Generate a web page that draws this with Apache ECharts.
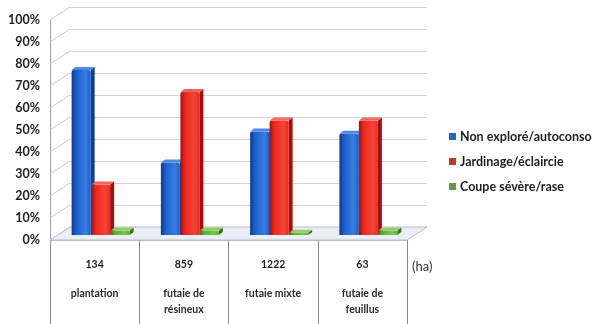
<!DOCTYPE html>
<html>
<head>
<meta charset="utf-8">
<script src="https://cdn.jsdelivr.net/npm/echarts@6/dist/echarts.min.js"></script>
<style>
  html, body { margin: 0; padding: 0; background: #ffffff; }
  #chart { width: 595px; height: 324px; }
</style>
</head>
<body>
<div id="chart"></div>
<script>
// Forest types and their area (ha)
const categories = ['plantation', 'futaie de\nrésineux', 'futaie mixte', 'futaie de\nfeuillus'];
const surfaces = ['134', '859', '1222', '63'];

// Share of each management practice per forest type (%)
const seriesNames = ['Non exploré/autoconso', 'Jardinage/éclaircie', 'Coupe sévère/rase'];
const nonExplore = [75, 33, 47, 46];
const jardinage = [23, 65, 52, 52];
const coupe = [2, 2, 1, 2];

// Value axis ticks
const yTicks = [0, 10, 20, 30, 40, 50, 60, 70, 80, 90, 100];

// Pseudo-3D geometry
const DEPTH_X = 20, DEPTH_Y = 13;      // wall depth
const MID_X = 6, MID_Y = 5;            // bars stand halfway into the depth
const BAR_W = 19, BAR_STEP = 19.5;     // front face width, spacing between series
const SIDE_X = 4, SIDE_Y = 3;          // bar side / top face extent

const FONT = 'Lato, "Liberation Sans", sans-serif';

const palettes = [
  { legend: '#1f66c8', dark: '#0b3a94', mid: '#1a5fcf', light: '#3a7ee0', side: '#0d3f8f', top: '#4d8ae6' },
  { legend: '#c0392b', dark: '#a30f0c', mid: '#f0261c', light: '#f2463a', side: '#9c120e', top: '#f7665c' },
  { legend: '#5a9e3a', dark: '#3d7a22', mid: '#5fae35', light: '#7cc451', side: '#3a6f20', top: '#8fd063' }
];

function frameRenderer(params, api) {
  const cs = params.coordSys;
  const v = api.value(1);
  const y = api.coord([0, v])[1];
  const children = [];
  if (v === 0) {
    children.push({
      type: 'polygon',
      shape: { points: [[cs.x, y], [cs.x + cs.width, y], [cs.x + cs.width + DEPTH_X, y - DEPTH_Y], [cs.x + DEPTH_X, y - DEPTH_Y]] },
      style: { fill: '#eaeff5', stroke: '#b2bfcd', lineWidth: 1 }
    });
  }
  children.push({
    type: 'line',
    shape: { x1: cs.x, y1: y, x2: cs.x + DEPTH_X, y2: y - DEPTH_Y },
    style: { stroke: '#c8c8c8', lineWidth: 1 }
  });
  return { type: 'group', children: children };
}

function barRenderer(s) {
  const p = palettes[s];
  return function (params, api) {
    const i = api.value(0), v = api.value(1);
    const base = api.coord([i, 0]);
    const top = api.coord([i, v]);
    const cx = base[0] + MID_X + (s - 1) * BAR_STEP;
    const yb = base[1] - MID_Y, yt = top[1] - MID_Y;
    const x1 = cx - BAR_W / 2, x2 = cx + BAR_W / 2;
    const h = Math.max(yb - yt, 1);
    return {
      type: 'group',
      children: [
        {
          type: 'polygon',
          shape: { points: [[x2, yt], [x2 + SIDE_X, yt - SIDE_Y], [x2 + SIDE_X, yb - SIDE_Y], [x2, yb]] },
          style: { fill: p.side }
        },
        {
          type: 'rect',
          shape: { x: x1, y: yt, width: BAR_W, height: h, r: [2, 2, 0, 0] },
          style: {
            fill: new echarts.graphic.LinearGradient(0, 0, 1, 0, [
              { offset: 0, color: p.dark },
              { offset: 0.25, color: p.mid },
              { offset: 0.75, color: p.light },
              { offset: 1, color: p.mid }
            ])
          }
        },
        {
          type: 'polygon',
          shape: { points: [[x1, yt], [x2, yt], [x2 + SIDE_X, yt - SIDE_Y], [x1 + SIDE_X, yt - SIDE_Y]] },
          style: { fill: p.top }
        }
      ]
    };
  };
}

const values = [nonExplore, jardinage, coupe];

const chart = echarts.init(document.getElementById('chart'), null, { renderer: 'canvas' });

chart.setOption({
  animation: false,
  backgroundColor: '#ffffff',
  grid: [
    { left: 50, right: 188, top: 20, bottom: 84 },
    { left: 50 + DEPTH_X, right: 188 - DEPTH_X, top: 20 - DEPTH_Y, bottom: 84 + DEPTH_Y }
  ],
  legend: {
    data: seriesNames,
    orient: 'vertical',
    left: 449,
    top: 130,
    padding: 0,
    itemGap: 12,
    itemWidth: 7,
    itemHeight: 7,
    icon: 'rect',
    textStyle: { fontFamily: FONT, fontSize: 12.5, fontWeight: 'bold', color: '#1e1e1e', padding: [0, 0, 0, -1] }
  },
  xAxis: [
    {
      gridIndex: 0,
      type: 'category',
      data: categories,
      boundaryGap: true,
      axisLine: { show: true, lineStyle: { color: '#b2bfcd' } },
      axisTick: { show: true, interval: 0, length: 84, lineStyle: { color: '#8c8c8c' } },
      axisLabel: {
        interval: 0,
        margin: 4,
        formatter: function (val, idx) { return '{n|' + surfaces[idx] + '}\n{c|' + val + '}'; },
        rich: {
          n: { fontFamily: FONT, fontSize: 10.5, fontWeight: 'bold', color: '#1e1e1e', lineHeight: 42 },
          c: { fontFamily: FONT, fontSize: 10.5, fontWeight: 'bold', color: '#2a2a2a', lineHeight: 16 }
        }
      }
    },
    { gridIndex: 1, type: 'category', data: categories, show: false }
  ],
  yAxis: [
    {
      gridIndex: 0,
      type: 'value',
      min: 0,
      max: 100,
      interval: 10,
      axisLine: { show: true, lineStyle: { color: '#a0a0a0' } },
      axisTick: { show: false },
      splitLine: { show: false },
      axisLabel: {
        margin: 10,
        formatter: '{value}%',
        fontFamily: FONT,
        fontSize: 12.5,
        fontWeight: 'bold',
        color: '#1e1e1e'
      }
    },
    {
      gridIndex: 1,
      type: 'value',
      min: 0,
      max: 100,
      interval: 10,
      axisLine: { show: false },
      axisTick: { show: false },
      axisLabel: { show: false },
      splitLine: { show: true, lineStyle: { color: '#d4d4d4', width: 1 } }
    }
  ],
  graphic: [
    {
      type: 'text',
      left: 412,
      top: 260,
      style: { text: '(ha)', fontFamily: FONT, fontSize: 13, fill: '#333333' }
    }
  ],
  series: [
    {
      type: 'custom',
      name: 'frame',
      xAxisIndex: 0,
      yAxisIndex: 0,
      silent: true,
      renderItem: frameRenderer,
      data: yTicks.map(function (v) { return [0, v]; }),
      z: 1
    }
  ].concat(seriesNames.map(function (name, s) {
    return {
      type: 'custom',
      name: name,
      xAxisIndex: 0,
      yAxisIndex: 0,
      itemStyle: { color: palettes[s].legend },
      renderItem: barRenderer(s),
      encode: { x: 0, y: 1 },
      data: values[s].map(function (v, i) { return [i, v]; }),
      z: 2
    };
  }))
});
</script>
</body>
</html>
